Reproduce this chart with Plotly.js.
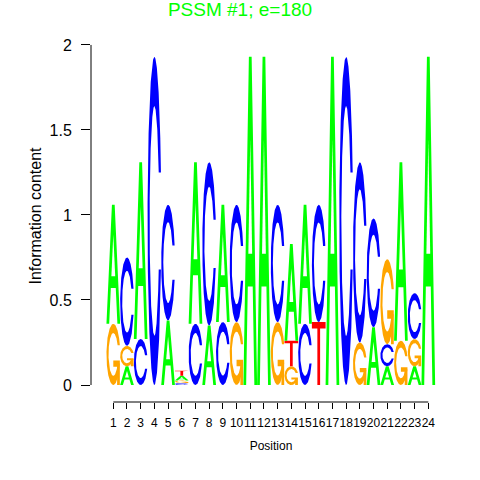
<!DOCTYPE html>
<html><head><meta charset="utf-8">
<script src="https://cdn.plot.ly/plotly-3.0.1.min.js"></script>
<style>html,body{margin:0;padding:0;background:#fff}#chart{width:480px;height:480px}</style>
</head><body><div id="chart"></div>
<script>
// ---- data: information content (bits) of each base at each position ----
const positions = [1,2,3,4,5,6,7,8,9,10,11,12,13,14,15,16,17,18,19,20,21,22,23,24];
const heightA = [0.70,0.11,1.04,0,   0.38,0.028,0.95,0.35,0.69,0,   1.93,1.93,0,   0.57,0.70,0,   1.93,0,   0,   0.34,0.11,1.05,0.11,1.93];
const heightC = [0,   0.52,0.27,1.93,0.68,0.012,0.36,0.96,0.37,0.69,0,   0,   0.69,0,   0.36,0.69,0,   1.93,1.06,0.64,0.13,0,   0.27,0];
const heightG = [0.36,0.12,0,   0,   0,   0.014,0,   0,   0,   0.37,0,   0,   0.37,0.11,0,   0,   0,   0,   0.25,0,   0.50,0.26,0.16,0];
const heightT = [0,   0,   0,   0,   0,   0.030,0,   0,   0,   0,   0,   0,   0,   0.15,0,   0.37,0,   0,   0,   0,   0,   0,   0,   0];
const bases = ['A','C','G','T'];
const baseColors = {A:'#00FF00', C:'#0000FF', G:'#FFA500', T:'#FF0000'};
const yTickVals = [0,0.5,1,1.5,2];
const yTickText = ['0','0.5','1','1.5','2'];
const chartTitle = 'PSSM #1; e=180';
const xTitle = 'Position';
const yTitle = 'Information content';

// ---- glyph outlines in a unit box (seqLogo style) ----
function seq(a,b,n){const r=[];for(let i=0;i<n;i++)r.push(a+(b-a)*i/(n-1));return r;}
function cRing(){
  const a1=seq(0.3+Math.PI/2,Math.PI,100), a2=seq(Math.PI,1.5*Math.PI,100);
  const xl1=a1.map(a=>0.5+0.5*Math.sin(a)), yl1=a1.map(a=>0.5+0.5*Math.cos(a));
  const xl2=a2.map(a=>0.5+0.5*Math.sin(a)), yl2=a2.map(a=>0.5+0.5*Math.cos(a));
  const xl=xl1.concat(xl2), yl=yl1.concat(yl2);
  let x=xl.concat(xl.slice().reverse());
  let y=yl.concat(yl.slice().reverse().map(v=>1-v));
  const h=Math.max(...yl1);
  let xi1=[],yi1=[];
  a1.forEach(a=>{const yy=0.5+0.35*Math.cos(a);if(yy<=h){xi1.push(0.5+0.35*Math.sin(a));yi1.push(yy);}});
  yi1[0]=h;
  const xi2=a2.map(a=>0.5+0.35*Math.sin(a)), yi2=a2.map(a=>0.5+0.35*Math.cos(a));
  const xi=xi1.concat(xi2), yi=yi1.concat(yi2);
  const x1=xi.concat(xi.slice().reverse());
  const y1=yi.concat(yi.slice().reverse().map(v=>1-v));
  x=x.concat(x1.slice().reverse()); y=y.concat(y1.slice().reverse());
  return {x,y,r1:Math.max(...xl1)};
}
function glyph(base){
  if(base==='A') return {fill:[[[0,0],[0.4,1],[0.6,1],[1,0],[0.8,0],[0.68,0.3],[0.32,0.3],[0.2,0],[0,0]]],
                         hole:[[[0.36,0.4],[0.5,0.75],[0.64,0.4],[0.36,0.4]]]};
  if(base==='T') return {fill:[[[0,1],[1,1],[1,0.9],[0.6,0.9],[0.6,0],[0.4,0],[0.4,0.9],[0,0.9],[0,1]]],hole:[]};
  const c=cRing(); const ring=c.x.map((v,i)=>[v,c.y[i]]);
  if(base==='C') return {fill:[ring],hole:[]};
  const r1=c.r1,h1=0.4;
  const bar=[[r1,h1],[0.5,h1],[0.5,h1-0.1],[r1-0.2,h1-0.1],[r1-0.2,0],[r1,0],[r1,h1]];
  return {fill:[ring,bar],hole:[]};
}
const glyphs={}; bases.forEach(b=>glyphs[b]=glyph(b));
const heights={A:heightA,C:heightC,G:heightG,T:heightT};

const traces=[];
function addPoly(pts,px,base,h,color){
  traces.push({type:'scatter',mode:'lines',x:pts.map(p=>px-0.5+p[0]),y:pts.map(p=>base+p[1]*h),
    fill:'toself',fillcolor:color,line:{width:0,color:color},hoverinfo:'skip',showlegend:false});
}
positions.forEach((p,i)=>{
  const col=bases.map(b=>({b,h:heights[b][i]})).filter(o=>o.h>0).sort((u,v)=>u.h-v.h);
  let base=0;
  col.forEach(o=>{
    const g=glyphs[o.b];
    g.fill.forEach(poly=>addPoly(poly,p,base,o.h,baseColors[o.b]));
    g.hole.forEach(poly=>addPoly(poly,p,base,o.h,'#FFFFFF'));
    base+=o.h;
  });
});

const font='"Liberation Sans", Arial, Helvetica, sans-serif';
const layout={
  width:480,height:480,margin:{l:91,r:29,t:30,b:78},
  paper_bgcolor:'#fff',plot_bgcolor:'#fff',
  font:{family:font,color:'#000'},
  title:{text:chartTitle,font:{size:19,color:'#00FF00',family:font},x:0.5,xref:'container',xanchor:'center',y:1,yref:'container',yanchor:'top',pad:{t:3}},
  xaxis:{range:[-0.628,25.657],tickmode:'array',tickvals:positions,ticktext:positions.map(String),
    ticks:'outside',ticklen:6,tickcolor:'#000',tickwidth:1,tickangle:0,tickfont:{size:12},ticklabelstandoff:4,
    showgrid:false,zeroline:false,showline:false,fixedrange:true,
    title:{text:xTitle,font:{size:12},standoff:12}},
  yaxis:{range:[-0.1,2.088],tickmode:'array',tickvals:yTickVals,ticktext:yTickText,
    ticks:'outside',ticklen:9,tickcolor:'#000',tickwidth:1,tickfont:{size:16},ticklabelstandoff:6,
    showgrid:false,zeroline:false,showline:false,fixedrange:true,
    title:{text:yTitle,font:{size:16},standoff:3}},
  shapes:[
    {type:'line',xref:'x',yref:'paper',x0:positions[0],x1:positions[positions.length-1],y0:0,y1:0,line:{color:'#000',width:1}},
    {type:'line',xref:'paper',yref:'y',x0:0,x1:0,y0:yTickVals[0],y1:yTickVals[yTickVals.length-1],line:{color:'#000',width:1}}
  ]
};
Plotly.newPlot('chart',traces,layout,{displayModeBar:false,staticPlot:true});
</script></body></html>
